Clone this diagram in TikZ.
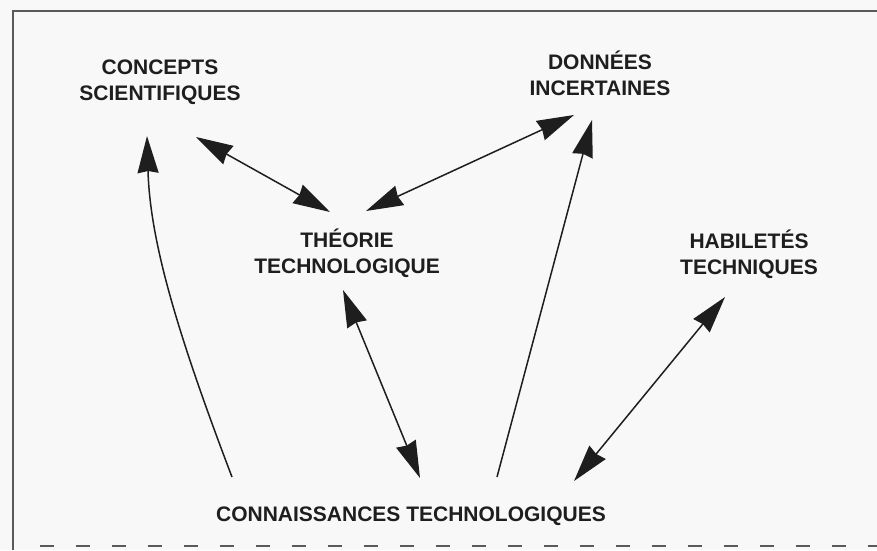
\documentclass[tikz,border=0pt]{standalone}
\usepackage{fontspec}
\newfontfamily\labfont{Liberation Sans}
\usetikzlibrary{arrows.meta}
\definecolor{ink}{HTML}{1E1E1E}
\definecolor{paper}{HTML}{F8F8F8}
\definecolor{frame}{HTML}{5A5A5A}
\tikzset{
  lab/.style={align=center, inner sep=0pt, text=ink, font=\labfont\bfseries\fontsize{21}{26}\selectfont},
  link/.style={draw=ink, line width=1.5pt},
  tip/.style={-{Stealth[length=37pt,width=21pt,inset=2pt]}},
  tips/.style={{Stealth[length=37pt,width=21pt,inset=2pt]}-{Stealth[length=37pt,width=21pt,inset=2pt]}},
  border/.style={draw=frame, line width=1.6pt}
}
\begin{document}
\begin{tikzpicture}[x=1pt,y=-1pt]
\useasboundingbox (0,0) rectangle (877,550);
\fill[paper] (0,0) rectangle (877,550);
% frame
\draw[border] (877,11) -- (13,11) -- (13,550);
\draw[border, dash pattern=on 14pt off 22pt] (40,546) -- (877,546);
% labels
\node[lab] (cs) at (160,82) {CONCEPTS\\SCIENTIFIQUES};
\node[lab] (di) at (600,73) {DONNÉES\\INCERTAINES};
\node[lab] (tt) at (347,253) {THÉORIE\\TECHNOLOGIQUE};
\node[lab] (ht) at (749,254) {HABILETÉS\\TECHNIQUES};
\node[lab] (ct) at (411,516) {CONNAISSANCES TECHNOLOGIQUES};
% arrow ends
\coordinate (csA) at (196,137);
\coordinate (csB) at (147,136);
\coordinate (diA) at (574,115);
\coordinate (diB) at (592,120);
\coordinate (ttA) at (330,212);
\coordinate (ttB) at (366,211);
\coordinate (ttC) at (343,290);
\coordinate (htA) at (725,297);
\coordinate (ctA) at (232,477);
\coordinate (ctB) at (420,478);
\coordinate (ctC) at (497,477);
\coordinate (ctD) at (574,481);
% connectors
\draw[link,tips] (csA) -- (ttA);
\draw[link,tips] (diA) -- (ttB);
\draw[link,tip] (ctA) .. controls (176,330) and (150,240) .. (csB);
\draw[link,tip] (ctC) -- (diB);
\draw[link,tips] (ttC) -- (ctB);
\draw[link,tips] (htA) -- (ctD);
\end{tikzpicture}
\end{document}
